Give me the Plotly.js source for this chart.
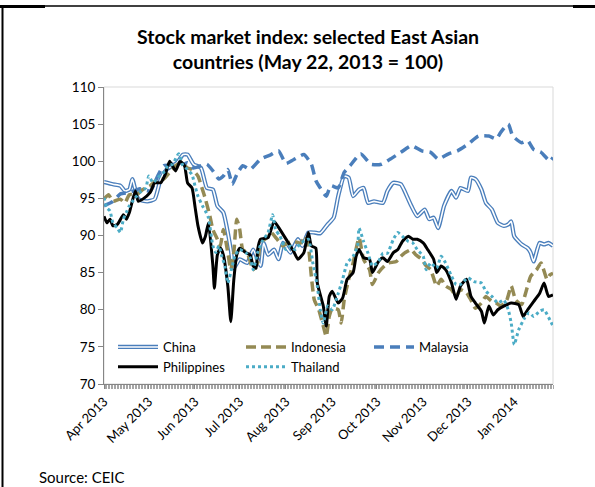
<!DOCTYPE html>
<html>
<head>
<meta charset="utf-8">
<script src="https://cdn.plot.ly/plotly-3.0.1.min.js"></script>
<style>
html,body{margin:0;padding:0;background:#fff;}
#chart{width:595px;height:487px;}
</style>
</head>
<body>
<div id="chart"></div>
<script>
// ---------------- DATA ----------------
const chinaDates = ["2013-04-01","2013-04-07","2013-04-12","2013-04-15","2013-04-18","2013-04-20","2013-04-24","2013-04-30","2013-05-05","2013-05-09","2013-05-13","2013-05-20","2013-05-24","2013-05-27","2013-05-31","2013-06-05","2013-06-09","2013-06-13","2013-06-16","2013-06-20","2013-06-23","2013-06-25","2013-06-27","2013-07-01","2013-07-06","2013-07-10","2013-07-15","2013-07-17","2013-07-20","2013-07-24","2013-07-27","2013-07-30","2013-08-04","2013-08-09","2013-08-12","2013-08-16","2013-08-20","2013-08-24","2013-08-29","2013-09-02","2013-09-05","2013-09-09","2013-09-12","2013-09-15","2013-09-19","2013-09-22","2013-09-25","2013-09-29","2013-10-05","2013-10-08","2013-10-12","2013-10-17","2013-10-19","2013-10-24","2013-10-28","2013-11-02","2013-11-05","2013-11-08","2013-11-11","2013-11-15","2013-11-20","2013-11-23","2013-11-26","2013-12-01","2013-12-03","2013-12-06","2013-12-10","2013-12-13","2013-12-17","2013-12-21","2013-12-25","2013-12-28","2013-12-30","2014-01-01","2014-01-06","2014-01-10","2014-01-12","2014-01-14","2014-01-18","2014-01-21","2014-01-24","2014-01-27"];
const chinaValues = [97.2,96.9,96.7,96.0,96.2,97.6,94.9,94.6,94.9,97.6,98.9,99.8,100.9,100.9,99.6,99.1,96.4,96.2,94.0,93.1,90.4,88.1,85.6,86.8,86.3,88.1,85.9,89.0,87.4,88.1,86.8,89.0,87.7,89.5,88.6,90.4,90.4,90.3,91.5,92.4,95.3,98.0,97.8,95.3,96.2,96.4,94.4,94.6,94.4,96.0,97.1,96.9,96.2,94.0,92.6,93.5,92.2,92.4,91.0,94.0,96.0,95.1,96.4,96.0,97.8,97.6,96.2,94.4,93.5,91.7,91.3,91.5,91.9,89.9,88.8,88.3,87.7,86.5,89.0,88.8,89.0,88.6];

const indonesiaDates = ["2013-04-01","2013-04-04","2013-04-07","2013-04-12","2013-04-15","2013-04-18","2013-04-23","2013-04-27","2013-05-02","2013-05-07","2013-05-11","2013-05-15","2013-05-19","2013-05-23","2013-05-27","2013-05-30","2013-06-03","2013-06-06","2013-06-08","2013-06-11","2013-06-13","2013-06-16","2013-06-18","2013-06-20","2013-06-23","2013-06-25","2013-06-27","2013-06-29","2013-07-01","2013-07-03","2013-07-06","2013-07-10","2013-07-13","2013-07-15","2013-07-18","2013-07-22","2013-07-26","2013-07-30","2013-08-02","2013-08-06","2013-08-11","2013-08-14","2013-08-16","2013-08-18","2013-08-20","2013-08-23","2013-08-26","2013-08-28","2013-08-30","2013-09-01","2013-09-05","2013-09-07","2013-09-09","2013-09-12","2013-09-15","2013-09-19","2013-09-22","2013-09-26","2013-09-28","2013-10-02","2013-10-06","2013-10-09","2013-10-14","2013-10-17","2013-10-20","2013-10-24","2013-10-27","2013-10-31","2013-11-03","2013-11-06","2013-11-10","2013-11-13","2013-11-16","2013-11-20","2013-11-23","2013-11-26","2013-11-30","2013-12-03","2013-12-06","2013-12-10","2013-12-13","2013-12-17","2013-12-20","2013-12-23","2013-12-27","2013-12-30","2014-01-02","2014-01-06","2014-01-09","2014-01-12","2014-01-16","2014-01-19","2014-01-23","2014-01-25","2014-01-27"];
const indonesiaValues = [94.9,95.5,94.6,94.9,94.4,95.5,95.5,96.2,96.7,97.6,97.6,98.5,99.4,99.8,99.1,98.9,98.0,96.2,94.9,92.6,90.8,89.5,88.6,90.8,87.7,85.4,87.7,92.2,90.8,88.1,87.7,85.4,86.3,89.2,89.5,90.4,89.5,88.6,89.0,89.2,89.0,89.9,88.6,84.5,81.3,80.0,77.8,76.4,79.1,80.2,80.0,78.2,81.3,84.1,86.3,89.7,86.8,85.4,83.4,85.0,85.9,86.3,86.5,87.2,87.7,88.1,87.4,86.8,85.9,85.4,83.2,84.1,83.2,82.7,81.8,82.7,82.3,81.3,80.2,80.9,81.8,81.1,80.9,80.5,81.3,83.2,81.3,80.7,82.5,84.5,85.4,86.3,84.1,84.7,84.9];

const malaysiaDates = ["2013-04-01","2013-04-07","2013-04-12","2013-04-18","2013-04-25","2013-05-02","2013-05-07","2013-05-11","2013-05-15","2013-05-20","2013-05-24","2013-05-27","2013-05-31","2013-06-05","2013-06-09","2013-06-13","2013-06-17","2013-06-20","2013-06-23","2013-06-26","2013-06-29","2013-07-03","2013-07-08","2013-07-15","2013-07-22","2013-07-27","2013-08-01","2013-08-06","2013-08-13","2013-08-18","2013-08-21","2013-08-24","2013-08-28","2013-08-31","2013-09-05","2013-09-09","2013-09-13","2013-09-20","2013-09-27","2013-10-04","2013-10-10","2013-10-17","2013-10-24","2013-10-31","2013-11-06","2013-11-11","2013-11-18","2013-11-24","2013-12-01","2013-12-08","2013-12-15","2013-12-20","2013-12-23","2013-12-28","2013-12-31","2014-01-06","2014-01-10","2014-01-14","2014-01-19","2014-01-25","2014-01-27"];
const malaysiaValues = [94.0,94.6,95.6,95.8,96.3,96.0,98.0,99.4,99.5,100.0,99.6,99.8,99.1,99.4,99.6,98.7,97.6,98.0,98.9,96.9,98.2,99.4,98.9,100.3,100.9,101.4,99.7,100.2,100.9,99.6,97.4,96.4,95.3,96.7,96.4,98.5,99.4,101.0,99.6,99.6,100.3,101.2,102.1,101.4,101.2,100.3,101.0,101.4,102.3,103.4,103.4,103.0,103.9,105.0,103.4,102.5,102.8,101.6,101.2,100.0,100.5];

const philippinesDates = ["2013-04-01","2013-04-03","2013-04-05","2013-04-07","2013-04-10","2013-04-14","2013-04-16","2013-04-18","2013-04-22","2013-04-24","2013-04-27","2013-05-02","2013-05-05","2013-05-09","2013-05-12","2013-05-15","2013-05-19","2013-05-22","2013-05-25","2013-05-27","2013-05-30","2013-06-01","2013-06-03","2013-06-06","2013-06-08","2013-06-10","2013-06-13","2013-06-14","2013-06-16","2013-06-18","2013-06-20","2013-06-23","2013-06-25","2013-06-27","2013-06-29","2013-07-01","2013-07-05","2013-07-08","2013-07-10","2013-07-12","2013-07-13","2013-07-15","2013-07-20","2013-07-24","2013-07-28","2013-08-02","2013-08-06","2013-08-09","2013-08-13","2013-08-16","2013-08-18","2013-08-21","2013-08-22","2013-08-26","2013-08-28","2013-08-30","2013-09-01","2013-09-05","2013-09-08","2013-09-11","2013-09-15","2013-09-17","2013-09-19","2013-09-22","2013-09-26","2013-09-28","2013-10-02","2013-10-05","2013-10-08","2013-10-12","2013-10-15","2013-10-18","2013-10-22","2013-10-25","2013-10-28","2013-11-01","2013-11-04","2013-11-08","2013-11-10","2013-11-13","2013-11-16","2013-11-20","2013-11-23","2013-11-26","2013-11-30","2013-12-03","2013-12-06","2013-12-10","2013-12-12","2013-12-15","2013-12-18","2013-12-21","2013-12-25","2013-12-30","2014-01-04","2014-01-07","2014-01-10","2014-01-14","2014-01-18","2014-01-21","2014-01-24","2014-01-27"];
const philippinesValues = [92.6,91.7,92.2,91.3,91.5,92.8,92.2,93.1,96.0,94.6,94.9,95.8,97.1,97.1,98.2,100.0,98.7,100.0,99.4,97.1,96.4,93.9,91.3,89.0,89.9,91.7,85.9,82.9,87.4,88.3,87.4,83.2,78.4,84.0,87.4,88.3,87.7,87.4,85.9,85.6,88.1,89.5,89.7,91.9,90.8,89.2,87.9,86.8,87.7,90.4,88.6,88.3,83.6,80.5,77.8,81.8,82.5,80.9,81.6,84.1,85.0,87.2,88.1,87.0,86.8,85.0,86.5,87.0,86.5,87.7,88.1,89.2,89.9,89.5,89.5,89.0,88.1,86.8,85.0,85.9,85.4,83.6,81.4,83.2,84.1,81.8,80.9,79.8,78.2,80.5,79.3,80.0,80.5,80.9,80.7,79.1,80.0,81.1,82.2,83.6,81.8,82.0];

const thailandDates = ["2013-04-01","2013-04-03","2013-04-05","2013-04-07","2013-04-10","2013-04-12","2013-04-14","2013-04-16","2013-04-18","2013-04-22","2013-04-25","2013-04-29","2013-05-01","2013-05-04","2013-05-07","2013-05-11","2013-05-14","2013-05-17","2013-05-21","2013-05-24","2013-05-27","2013-05-30","2013-06-01","2013-06-03","2013-06-06","2013-06-08","2013-06-10","2013-06-13","2013-06-15","2013-06-17","2013-06-19","2013-06-21","2013-06-23","2013-06-26","2013-06-28","2013-07-01","2013-07-05","2013-07-08","2013-07-10","2013-07-13","2013-07-16","2013-07-20","2013-07-23","2013-07-25","2013-07-28","2013-08-01","2013-08-04","2013-08-07","2013-08-11","2013-08-16","2013-08-19","2013-08-22","2013-08-24","2013-08-26","2013-08-29","2013-09-01","2013-09-05","2013-09-08","2013-09-11","2013-09-15","2013-09-18","2013-09-19","2013-09-22","2013-09-25","2013-09-28","2013-10-02","2013-10-05","2013-10-08","2013-10-12","2013-10-15","2013-10-18","2013-10-22","2013-10-25","2013-10-28","2013-11-01","2013-11-03","2013-11-06","2013-11-10","2013-11-13","2013-11-16","2013-11-20","2013-11-23","2013-11-26","2013-12-01","2013-12-05","2013-12-10","2013-12-13","2013-12-17","2013-12-21","2013-12-25","2013-12-28","2013-12-30","2014-01-01","2014-01-04","2014-01-08","2014-01-11","2014-01-14","2014-01-18","2014-01-21","2014-01-25","2014-01-27"];
const thailandValues = [95.1,93.7,93.3,91.7,91.0,90.4,92.2,93.1,94.0,95.1,95.8,96.4,98.0,97.1,97.8,98.5,99.4,99.6,101.0,99.4,98.9,98.2,96.7,95.3,94.0,93.3,92.4,88.6,87.7,88.6,87.2,85.9,83.6,85.9,87.4,88.1,87.7,87.0,85.4,87.7,89.2,90.4,92.8,90.8,89.9,88.1,88.6,88.1,89.0,89.5,86.3,83.2,80.0,78.2,80.5,80.0,82.2,84.1,86.3,87.2,88.6,91.0,89.2,87.6,85.9,86.5,87.6,87.6,89.5,90.4,89.9,89.2,89.0,88.1,87.2,85.4,86.3,85.6,87.2,86.3,84.5,83.4,83.4,84.3,83.8,83.6,82.5,81.8,80.9,81.3,80.0,78.2,75.3,77.3,78.9,79.6,79.1,79.8,80.0,78.6,77.8];

const seriesNames = ["China","Indonesia","Malaysia","Philippines","Thailand"];
const xRange = ["2013-04-01","2014-01-27"];
const yRange = [70,110];
const chartTitle = "Stock market index: selected East Asian<br>countries (May 22, 2013 = 100)";
const sourceNote = "Source: CEIC";

// ---------------- LAYOUT HELPERS ----------------
const W = 595, H = 487;
const M = {l:104, r:42, t:87, b:103};
const PW = W - M.l - M.r, PH = H - M.t - M.b;
const px = x => (x - M.l) / PW;          // pixel -> paper x
const py = y => (H - M.b - y) / PH;      // pixel -> paper y
const FONT = "Lato, 'Open Sans', 'Liberation Sans', sans-serif";
const sm = 0.5;

const traces = [
  {x: chinaDates, y: chinaValues, name: seriesNames[0], type:'scatter', mode:'lines',
   line:{color:'#4A7EBB', width:4.2, shape:'spline', smoothing:sm}},
  {x: chinaDates, y: chinaValues, name: seriesNames[0]+' inner', type:'scatter', mode:'lines', showlegend:false,
   line:{color:'#ffffff', width:1.6, shape:'spline', smoothing:sm}},
  {x: indonesiaDates, y: indonesiaValues, name: seriesNames[1], type:'scatter', mode:'lines',
   line:{color:'#948A54', width:3.5, dash:'10px,5px', shape:'spline', smoothing:sm}},
  {x: malaysiaDates, y: malaysiaValues, name: seriesNames[2], type:'scatter', mode:'lines',
   line:{color:'#4A7EBB', width:3.5, dash:'10px,6px', shape:'spline', smoothing:sm}},
  {x: philippinesDates, y: philippinesValues, name: seriesNames[3], type:'scatter', mode:'lines',
   line:{color:'#000000', width:3, shape:'spline', smoothing:sm}},
  {x: thailandDates, y: thailandValues, name: seriesNames[4], type:'scatter', mode:'lines',
   line:{color:'#4BACC6', width:3, dash:'3px,3px', shape:'spline', smoothing:sm}}
];

const layout = {
  width: W, height: H,
  margin: M,
  paper_bgcolor:'#ffffff', plot_bgcolor:'#ffffff',
  font:{family:FONT, size:13, color:'#000'},
  showlegend:true,
  title:{text:'<b>'+chartTitle+'</b>', font:{family:FONT, size:19.5, color:'#000'},
         x:308/W, xref:'container', xanchor:'center', y:1-44/H, yref:'container', yanchor:'top'},
  xaxis:{type:'date', range:xRange, tick0:'2013-04-01', dtick:'M1', tickformat:'%b %Y',
         tickangle:-45, ticks:'outside', ticklen:4, tickcolor:'#868686', tickwidth:1,
         showline:true, linecolor:'#868686', linewidth:1, showgrid:false, zeroline:false,
         tickfont:{family:FONT, size:13, color:'#000'},
         minor:{dtick:86400000, ticks:'outside', ticklen:4, tickcolor:'#A6A6A6', tickwidth:1, showgrid:false}},
  yaxis:{range:yRange, dtick:5, tick0:70, ticks:'outside', ticklen:5, tickcolor:'#868686',
         showline:true, linecolor:'#868686', linewidth:1, showgrid:false, zeroline:false,
         tickfont:{family:FONT, size:13.5, color:'#000'}},
  legend:{orientation:'h', x:px(113), y:py(382), xanchor:'left', yanchor:'bottom',
          entrywidth:73, entrywidthmode:'pixels', bgcolor:'rgba(0,0,0,0)',
          font:{family:FONT, size:13, color:'#000'}, traceorder:'normal', itemwidth:40},
  shapes:[
    {type:'rect', xref:'paper', yref:'paper', x0:0, x1:1, y0:0, y1:1, line:{color:'#D9D9D9', width:1}, layer:'below'},
    {type:'line', xref:'paper', yref:'paper', x0:px(2.5), x1:px(2.5), y0:py(487), y1:py(5), line:{color:'#000', width:2}},
    {type:'line', xref:'paper', yref:'paper', x0:px(0), x1:px(595), y0:py(6), y1:py(6), line:{color:'#000', width:1.5}},
    {type:'line', xref:'paper', yref:'paper', x0:px(0), x1:px(45), y0:py(6.5), y1:py(6.5), line:{color:'#000', width:3}},
    {type:'line', xref:'paper', yref:'paper', x0:px(573), x1:px(595), y0:py(6.5), y1:py(6.5), line:{color:'#000', width:3}}
  ],
  annotations:[
    {text:sourceNote, xref:'paper', yref:'paper', x:px(37), y:py(477), xanchor:'left', yanchor:'middle',
     showarrow:false, font:{family:FONT, size:15, color:'#000'}}
  ]
};

Plotly.newPlot('chart', traces, layout, {staticPlot:true, displayModeBar:false}).then(gd => {
  // give the China legend sample its double-line look
  const items = gd.querySelectorAll('.legend .traces');
  if (items.length) {
    const p = items[0].querySelector('path.js-line');
    if (p) {
      const c = p.cloneNode(true);
      c.style.stroke = '#ffffff';
      c.style.strokeWidth = '1.6px';
      p.parentNode.appendChild(c);
    }
  }
});
</script>
</body>
</html>
